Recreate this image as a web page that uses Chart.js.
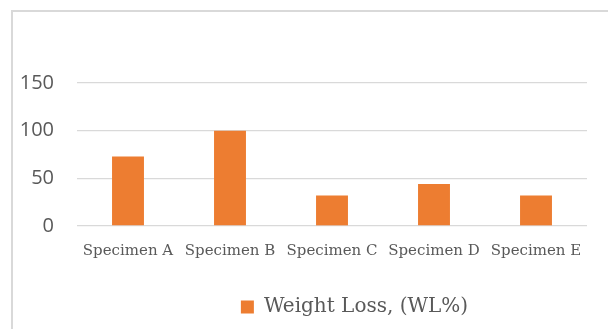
<!DOCTYPE html>
<html>
<head>
<meta charset="utf-8">
<script src="https://cdn.jsdelivr.net/npm/chart.js@4.4.1/dist/chart.umd.min.js"></script>
<style>
  html, body { margin: 0; padding: 0; background: #fff; overflow: hidden; width: 608px; height: 329px; }
  #frame { position: absolute; left: 11px; top: 10px; width: 800px; height: 400px;
           border-left: 2px solid #d9d9d9; border-top: 2px solid #d9d9d9; box-sizing: border-box; }
  #wrap { position: absolute; left: 0; top: 0; width: 690px; height: 329px; }
</style>
</head>
<body>
<div id="frame"></div>
<div id="wrap"><canvas id="chart" width="690" height="329"></canvas></div>
<script>
// Weight loss per specimen
const categories = ['Specimen A', 'Specimen B', 'Specimen C', 'Specimen D', 'Specimen E'];
const weightLoss = [73, 100, 32, 44, 32];
const seriesName = 'Weight Loss, (WL%)';
const yTicks = [0, 50, 100, 150];

const textGray = '#595959';
const gridGray = '#d9d9d9';
const barOrange = '#ED7D31';

new Chart(document.getElementById('chart'), {
  type: 'bar',
  data: {
    labels: categories,
    datasets: [{
      label: seriesName,
      data: weightLoss,
      backgroundColor: barOrange,
      borderWidth: 0,
      categoryPercentage: 1,
      barPercentage: 0.313,
      yAxisID: 'y'
    }]
  },
  options: {
    responsive: false,
    animation: false,
    devicePixelRatio: 1,
    layout: { padding: { left: 19, right: 0, top: 83, bottom: 2 } },
    plugins: {
      tooltip: { enabled: false },
      legend: {
        position: 'bottom',
        labels: {
          color: textGray,
          font: { family: 'DejaVu Serif', size: 20 },
          boxWidth: 13,
          boxHeight: 13,
          padding: 10
        }
      }
    },
    scales: {
      x: {
        grid: { display: false, drawTicks: false },
        border: { display: false },
        ticks: {
          color: textGray,
          font: { family: 'DejaVu Serif', size: 15 },
          padding: 16,
          maxRotation: 0,
          autoSkip: false
        },
        afterFit: (s) => { s.height = 61; s.paddingLeft = 0; s.paddingRight = 0; }
      },
      y: {
        min: yTicks[0],
        max: yTicks[yTicks.length - 1],
        afterBuildTicks: (s) => { s.ticks = yTicks.map(v => ({ value: v })); },
        grid: { color: gridGray, lineWidth: 1.3, drawTicks: false },
        border: { display: false },
        ticks: {
          color: textGray,
          font: { family: 'Open Sans', size: 20 },
          padding: 23
        },
        afterFit: (s) => { s.width = 58; }
      },
      side: {
        position: 'right',
        display: true,
        grid: { display: false },
        border: { display: false },
        ticks: { display: false },
        afterFit: (s) => { s.width = 103; }
      }
    }
  }
});
</script>
</body>
</html>
